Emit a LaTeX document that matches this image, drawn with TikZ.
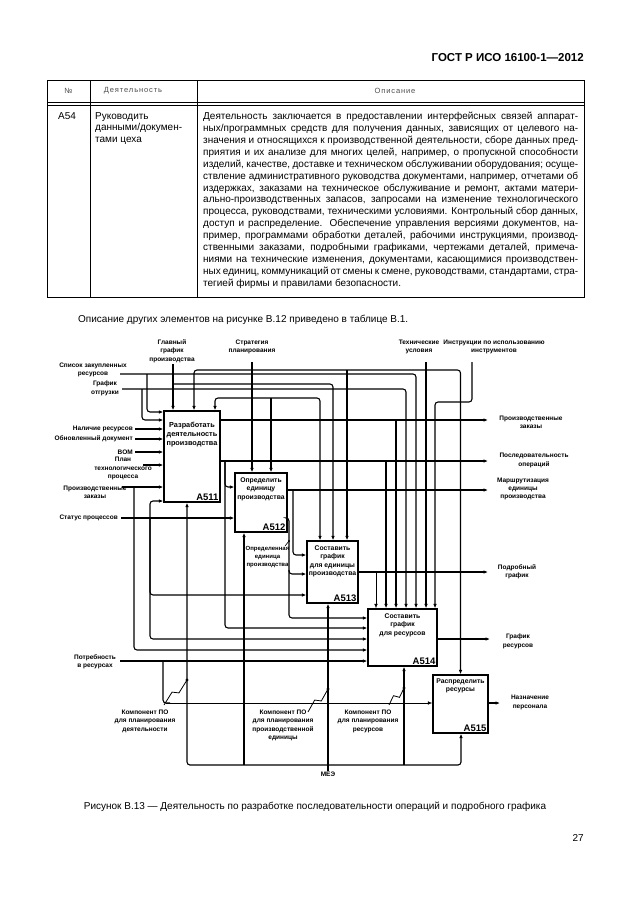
\documentclass[tikz,border=0pt]{standalone}
\usepackage{fontspec}
\setmainfont{Liberation Sans}
\usetikzlibrary{positioning, calc}
\usetikzlibrary{arrows.meta}
\tikzstyle{actbox}=[draw=black, line width=1.3pt, inner sep=0pt]
\tikzstyle{acttext}=[font=\fontsize{6.8}{8.4}\selectfont\bfseries, align=center, inner sep=0pt]
\tikzstyle{actid}=[font=\fontsize{9.5}{10}\selectfont\bfseries, inner sep=0pt]
\tikzstyle{lbl}=[font=\fontsize{6.5}{8.4}\selectfont\bfseries, align=center, inner sep=0pt]
\tikzstyle{flow}=[line width=1.1pt, -{Latex[length=4.5pt,width=3.6pt]}, rounded corners=3pt]
\tikzstyle{thinflow}=[line width=0.6pt, -{Latex[length=4.5pt,width=3.6pt]}, rounded corners=3pt]
\tikzstyle{squig}=[line width=0.8pt, to path={-- ($(\tikztostart)!0.44!(\tikztotarget)!2.8pt!90:(\tikztotarget)$) -- ($(\tikztostart)!0.56!(\tikztotarget)!2.8pt!-90:(\tikztotarget)$) -- (\tikztotarget)}]
\tikzstyle{hdr}=[font=\fontsize{7.5}{9}\selectfont\addfontfeature{LetterSpace=12}, text=black!70, inner sep=0pt]
\tikzstyle{body}=[font=\fontsize{10}{11.9}\selectfont, inner sep=0pt]

\begin{document}
\begin{tikzpicture}[x=1pt,y=-1pt]
    \fill[white] (0,0) rectangle (630,913);
    \useasboundingbox (0,0) rectangle (630,913);

    % page head
    \node[font=\fontsize{11.5}{11.5}\selectfont\bfseries, anchor=base east, inner sep=0pt] (gost) at (584,61) {ГОСТ Р ИСО 16100-1—2012};

    % table
    \draw[line width=0.8pt] (47,80) rectangle (584,297);
    \draw[line width=0.6pt] (47,102) -- (584,102) (47,105) -- (584,105);
    \draw[line width=0.6pt] (90,80) -- (90,297) (197,80) -- (197,297);
    \node[hdr] (hnum) at (68.5,91) {№};
    \node[hdr] (hact) at (133,91) {Деятельность};
    \node[hdr] (hdesc) at (395,91) {Описание};
    \node[body, anchor=north west] (rnum) at (58,112) {A54};
    \node[body, anchor=north west, align=left] (ract) at (95,112) {Руководить\\данными/докумен-\\тами цеха};
    \node[body, anchor=north west, align=left] (rdesc) at (203,112) {%
        \makebox[375pt][s]{Деятельность заключается в предоставлении интерфейсных связей аппарат-}\\
        \makebox[375pt][s]{ных/программных средств для получения данных, зависящих от целевого на-}\\
        \makebox[375pt][s]{значения и относящихся к производственной деятельности, сборе данных пред-}\\
        \makebox[375pt][s]{приятия и их анализе для многих целей, например, о пропускной способности}\\
        \makebox[375pt][s]{изделий, качестве, доставке и техническом обслуживании оборудования; осуще-}\\
        \makebox[375pt][s]{ствление административного руководства документами, например, отчетами об}\\
        \makebox[375pt][s]{издержках, заказами на техническое обслуживание и ремонт, актами матери-}\\
        \makebox[375pt][s]{ально-производственных запасов, запросами на изменение технологического}\\
        \makebox[375pt][s]{процесса, руководствами, техническими условиями. Контрольный сбор данных,}\\
        \makebox[375pt][s]{доступ и распределение. Обеспечение управления версиями документов, на-}\\
        \makebox[375pt][s]{пример, программами обработки деталей, рабочими инструкциями, производ-}\\
        \makebox[375pt][s]{ственными заказами, подробными графиками, чертежами деталей, примеча-}\\
        \makebox[375pt][s]{ниями на технические изменения, документами, касающимися производствен-}\\
        \makebox[375pt][s]{ных единиц, коммуникаций от смены к смене, руководствами, стандартами, стра-}\\
        тегией фирмы и правилами безопасности.};

    \node[body, anchor=base west] (intro) at (78,322) {Описание других элементов на рисунке В.12 приведено в таблице В.1.};

    % activity boxes
    \node[actbox, minimum width=56pt, minimum height=91pt] (a511) at (192,456.5) {};
    \node[actbox, minimum width=52pt, minimum height=59pt] (a512) at (261,502.5) {};
    \node[actbox, minimum width=51pt, minimum height=62pt] (a513) at (332.5,572) {};
    \node[actbox, minimum width=69pt, minimum height=57pt] (a514) at (402.5,637.5) {};
    \node[actbox, minimum width=55pt, minimum height=58pt] (a515) at (460.5,704) {};

    \node[acttext, font=\fontsize{7.3}{9}\selectfont\bfseries, below=12pt of a511.north] (t511) {Разработать\\деятельность\\производства};
    \node[acttext, below=5pt of a512.north] (t512) {Определить\\единицу\\производства};
    \node[acttext, below=5pt of a513.north] (t513) {Составить\\график\\для единицы\\производства};
    \node[acttext, below=5pt of a514.north] (t514) {Составить\\график\\для ресурсов};
    \node[acttext, below=4pt of a515.north] (t515) {Распределить\\ресурсы};
    \node[actid, above left=2pt and 2pt of a511.south east] (n511) {A511};
    \node[actid, above left=2pt and 2pt of a512.south east] (n512) {A512};
    \node[actid, above left=2pt and 2pt of a513.south east] (n513) {A513};
    \node[actid, above left=2pt and 2pt of a514.south east] (n514) {A514};
    \node[actid, above left=2pt and 2pt of a515.south east] (n515) {A515};

    % controls from the top
    \node[lbl] (lglav) at (172,351) {Главный\\график\\производства};
    \node[lbl] (lstrat) at (252,347) {Стратегия\\планирования};
    \node[lbl] (ltech) at (419,347) {Технические\\условия};
    \node[lbl] (linstr) at (494,347) {Инструкции по использованию\\инструментов};
    \coordinate (sglav) at (173,364);
    \coordinate (sstrat) at (252,362);
    \coordinate (stech) at (426,362);
    \coordinate (sinstr) at (472,362);

    \draw[flow] (sglav) -- (a511.north -| sglav);
    \draw[flow] (173,384) -| (a513.north -| 333,0);
    \draw[flow] (sstrat) -- (a512.north -| sstrat);
    \draw[flow] (252,398) -| (a511.north -| 215,0);
    \draw[flow] (252,398) -| (a513.north -| 320,0);
    \draw[flow] (271,398) -- (a512.north -| 271,0);
    \draw[flow] (stech) -- (a514.north -| stech);
    \draw[flow] (426,370) -| (a511.north -| 194,0);
    \draw[flow] (426,370) -| (a515.north);
    \draw[flow] (347,370) -- (a513.north -| 347,0);
    \draw[flow] (sinstr) -- (472,402) -| (a514.north -| 435,0);

    % inputs from the left
    \node[lbl] (lspis) at (93,370) {Список закупленных\\ресурсов};
    \node[lbl] (lotgr) at (105,388.5) {График\\отгрузки};
    \node[lbl, anchor=east] (lnal) at (133,429) {Наличие ресурсов};
    \node[lbl, anchor=east] (lobn) at (133,439) {Обновленный документ};
    \node[lbl, anchor=east] (lbom) at (133,452) {BOM};
    \node[lbl] (lplan) at (123,468.5) {План\\технологического\\процесса};
    \node[lbl] (lzak) at (95,492) {Производственные\\заказы};
    \node[lbl, anchor=east] (lstat) at (118,518) {Статус процессов};
    \node[lbl] (lpotr) at (95,661.5) {Потребность\\в ресурсах};
    \coordinate (sspis) at (120,374);
    \coordinate (sotgr) at (122,389);
    \coordinate (splan) at (143,465);
    \coordinate (szak) at (122,487);
    \coordinate (spotr) at (120,661);

    \draw[flow] (sspis) -| (a514.north -| 416,0);
    \draw[flow] (147,374) |- (a511.west |- 0,412);
    \draw[flow] (sotgr) -| (a514.north -| 406,0);
    \draw[flow] (142,389) |- (a511.west |- 0,420);
    \draw[flow] ([xshift=2pt]lnal.east) -- (a511.west |- lnal.east);
    \draw[flow] ([xshift=2pt]lobn.east) -- (a511.west |- lobn.east);
    \draw[flow] ([xshift=2pt]lbom.east) -- (a511.west |- lbom.east);
    \draw[flow] (splan) -- (a511.west |- splan);
    \draw[flow] (szak) -- (a511.west |- szak);
    \draw[flow] (134,487) |- (a514.west |- 0,650);
    \draw[flow] ([xshift=3pt]lstat.east) -- (a512.west |- lstat.east);
    \draw[flow] (150,518) |- (a511.west |- 0,501);
    \draw[flow] (150,518) |- (a513.west |- 0,595);
    \draw[flow] (150,518) |- (a514.west |- 0,639);
    \draw[flow] (spotr) -- (a514.west |- spotr);
    \draw[line width=1.1pt, rounded corners=3pt] (163,661) |- (170,703);
    \draw[thinflow] (166,703) -- (a515.west |- 0,703);

    % outputs
    \node[lbl] (ozak) at (531,422) {Производственные\\заказы};
    \node[lbl] (oposl) at (534,460.5) {Последовательность\\операций};
    \node[lbl] (omarsh) at (523,489) {Маршрутизация\\единицы\\производства};
    \node[lbl] (opodr) at (517,572) {Подробный\\график};
    \node[lbl] (ores) at (518,641.5) {График\\ресурсов};
    \node[lbl] (onazn) at (530,702.5) {Назначение\\персонала};
    \coordinate (ezak) at (488,420);
    \coordinate (eposl) at (488,461);
    \coordinate (emarsh) at (488,490);
    \coordinate (epodr) at (488,572);
    \coordinate (eres) at (490,639);
    \coordinate (enazn) at (500,703);

    \draw[flow] (a511.east |- ezak) -- (ezak);
    \draw[flow] (396,420) -- (a514.north -| 396,0);
    \draw[flow] (a511.east |- eposl) -- (eposl);
    \draw[flow] (225,461) |- (a512.west |- 0,487);
    \draw[flow] (225,461) |- (a514.west |- 0,628);
    \draw[flow] (386,461) -- (a514.north -| 386,0);
    \draw[flow] (a512.east |- emarsh) -- (emarsh);
    \draw[flow] (293,490) |- (a513.west |- 0,555);
    \draw[flow] (a512.east |- 0,518) -| (289,574) -- (a513.west |- 0,574);
    \draw[flow] (289,570) |- (a514.west |- 0,618);
    \draw[flow] (a513.east |- epodr) -- (epodr);
    \draw[thinflow] (376,572) -- (a514.north -| 376,0);
    \draw[flow] (a514.east |- eres) -- (eres);
    \draw[flow] (a515.east |- enazn) -- (enazn);

    % label between A512 and A513
    \node[lbl, font=\fontsize{6}{8.2}\selectfont\bfseries] (lopr) at (267.5,557) {Определенная\\единица\\производства};
    \draw[line width=0.6pt] (285,546) -- (289,541);
    \fill (289,541) circle (1.2pt);

    % mechanisms
    \coordinate (smee) at (328,771);
    \node[lbl, below=1pt of smee] (lmee) {МЕЭ};
    \draw[flow] (smee) -- (a513.south -| smee);
    \draw[flow] (328,765) -| (a511.south -| 187,0);
    \draw[flow] (328,765) -| (a515.south -| 461,0);
    \draw[flow] (244,765) -- (a512.south -| 244,0);
    \draw[flow] (404,765) -- (a514.south -| 404,0);

    % software components
    \node[lbl] (ldet) at (145,721) {Компонент ПО\\для планирования\\деятельности};
    \node[lbl] (lunit) at (283,725.5) {Компонент ПО\\для планирования\\производственной\\единицы};
    \node[lbl] (lres) at (368,721) {Компонент ПО\\для планирования\\ресурсов};
    \coordinate (kdet) at (187,680);
    \coordinate (kunit) at (328,689);
    \coordinate (kres) at (404,688);
    \draw[squig] (kdet) to (164,705);
    \draw[squig] (kunit) to (308,712);
    \draw[squig] (kres) to (389,705);
    \fill (kdet) circle (1.6pt) (kunit) circle (1.6pt) (kres) circle (1.6pt);

    % caption and page number
    \node[body, anchor=base] (capt) at (315,809) {Рисунок В.13 — Деятельность по разработке последовательности операций и подробного графика};
    \node[body, anchor=base east] (pnum) at (584,841) {27};
\end{tikzpicture}
\end{document}
